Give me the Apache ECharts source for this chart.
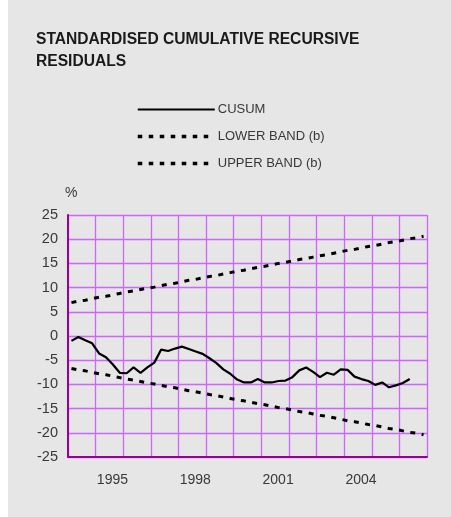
<!DOCTYPE html>
<html>
<head>
<meta charset="utf-8">
<script src="https://cdn.jsdelivr.net/npm/echarts@6/dist/echarts.min.js"></script>
<style>
  html, body { margin: 0; padding: 0; background: #ffffff; }
  #panel { position: absolute; left: 8px; top: 0; width: 443px; height: 517px; background: #e6e6e6; }
  #chart { position: absolute; left: 0; top: 0; width: 451px; height: 517px; }
</style>
</head>
<body>
<div id="panel"></div>
<div id="chart"></div>
<script>
// years on the axis, data is quarterly (4 per year)
var years = ['1994','1995','1996','1997','1998','1999','2000','2001','2002','2003','2004','2005','2006'];
var quarters = [];
years.forEach(function (y) {
  quarters.push(y + 'Q1', y + 'Q2', y + 'Q3', y + 'Q4');
});

var yTicks = [-25, -20, -15, -10, -5, 0, 5, 10, 15, 20, 25];

// one value per quarter
var cusum = [-1.0, -0.2, -0.9, -1.5, -3.6, -4.4, -5.9, -7.6, -7.7, -6.5, -7.6, -6.5, -5.5,
  -2.8, -3.1, -2.6, -2.2, -2.7, -3.2, -3.7, -4.6, -5.6, -6.9, -7.8, -9.0, -9.6, -9.6,
  -8.9, -9.6, -9.6, -9.3, -9.2, -8.5, -7.1, -6.5, -7.4, -8.5, -7.6, -8.0, -6.9, -7.0,
  -8.4, -8.9, -9.3, -10.1, -9.6, -10.6, -10.2, -9.7, -8.9];

var lowerBand = [-6.7, -7.0, -7.2, -7.5, -7.8, -8.0, -8.3, -8.6, -8.9, -9.1, -9.4, -9.7, -9.9,
  -10.2, -10.5, -10.7, -11.0, -11.3, -11.5, -11.8, -12.1, -12.3, -12.6, -12.9, -13.2, -13.4,
  -13.7, -14.0, -14.2, -14.5, -14.8, -15.0, -15.3, -15.6, -15.8, -16.1, -16.4, -16.6, -16.9,
  -17.2, -17.5, -17.7, -18.0, -18.3, -18.5, -18.8, -19.1, -19.3, -19.6, -19.9, -20.1, -20.4];

var upperBand = [6.9, 7.2, 7.4, 7.7, 8.0, 8.2, 8.5, 8.8, 9.1, 9.3, 9.6, 9.9, 10.1,
  10.4, 10.7, 10.9, 11.2, 11.5, 11.7, 12.0, 12.3, 12.5, 12.8, 13.1, 13.4, 13.6,
  13.9, 14.2, 14.4, 14.7, 15.0, 15.2, 15.5, 15.8, 16.0, 16.3, 16.6, 16.8, 17.1,
  17.4, 17.7, 17.9, 18.2, 18.5, 18.7, 19.0, 19.3, 19.5, 19.8, 20.1, 20.3, 20.6];

var gridColor = '#cc66ff';
var axisColor = '#990099';
var textColor = '#383838';
var font = 'Liberation Sans, Arial, sans-serif';

var chart = echarts.init(document.getElementById('chart'));
var bandStyle = { color: '#000', width: 3, type: [5, 6.5] };

var option = {
  backgroundColor: 'transparent',
  animation: false,
  textStyle: { fontFamily: font },
  title: {
    text: 'STANDARDISED CUMULATIVE RECURSIVE\nRESIDUALS',
    left: 36,
    top: 29,
    padding: 0,
    textStyle: { fontSize: 15.6, fontWeight: 'bold', color: '#1a1a1a', lineHeight: 21.5, fontFamily: font }
  },
  legend: {
    orient: 'vertical',
    left: 136,
    top: 103,
    padding: 0,
    itemWidth: 77,
    itemHeight: 14,
    itemGap: 14,
    data: [
      { name: 'CUSUM', lineStyle: { width: 2 } },
      { name: 'LOWER BAND (b)', lineStyle: { width: 3.5, type: [4.5, 6.5] } },
      { name: 'UPPER BAND (b)', lineStyle: { width: 3.5, type: [4.5, 6.5] } }
    ],
    itemStyle: { opacity: 0 },
    textStyle: { fontSize: 13, color: textColor, fontFamily: font, padding: [0, 0, 0, -2] }
  },
  graphic: [{
    type: 'text',
    left: 65,
    top: 186,
    style: { text: '%', fontSize: 14, fill: textColor, fontFamily: font }
  }],
  grid: { left: 68, right: 24, top: 215, bottom: 60, containLabel: false },
  xAxis: [{
    type: 'category',
    data: quarters,
    show: false,
    boundaryGap: true
  }, {
    type: 'category',
    data: years,
    position: 'bottom',
    boundaryGap: true,
    axisLine: { lineStyle: { color: axisColor, width: 2 } },
    axisTick: { show: false },
    axisLabel: {
      interval: function (idx) { return idx % 3 === 1; },
      margin: 16,
      fontSize: 14,
      color: textColor,
      padding: [0, 0, 0, 6]
    },
    splitLine: { show: true, interval: 0, lineStyle: { color: gridColor, width: 1.3 } }
  }],
  yAxis: {
    type: 'value',
    min: yTicks[0],
    max: yTicks[yTicks.length - 1],
    interval: 5,
    axisLine: { show: true, lineStyle: { color: axisColor, width: 2 } },
    axisTick: { show: false },
    axisLabel: { fontSize: 14.5, color: textColor, margin: 10 },
    splitLine: { lineStyle: { color: gridColor, width: 1.3 } }
  },
  series: [{
    name: 'CUSUM',
    type: 'line',
    xAxisIndex: 0,
    data: cusum,
    symbol: 'none',
    lineStyle: { color: '#000', width: 2.2 },
    itemStyle: { color: '#000' }
  }, {
    name: 'LOWER BAND (b)',
    type: 'line',
    xAxisIndex: 0,
    data: lowerBand,
    symbol: 'none',
    lineStyle: bandStyle,
    itemStyle: { color: '#000' }
  }, {
    name: 'UPPER BAND (b)',
    type: 'line',
    xAxisIndex: 0,
    data: upperBand,
    symbol: 'none',
    lineStyle: bandStyle,
    itemStyle: { color: '#000' }
  }]
};

chart.setOption(option);
</script>
</body>
</html>
